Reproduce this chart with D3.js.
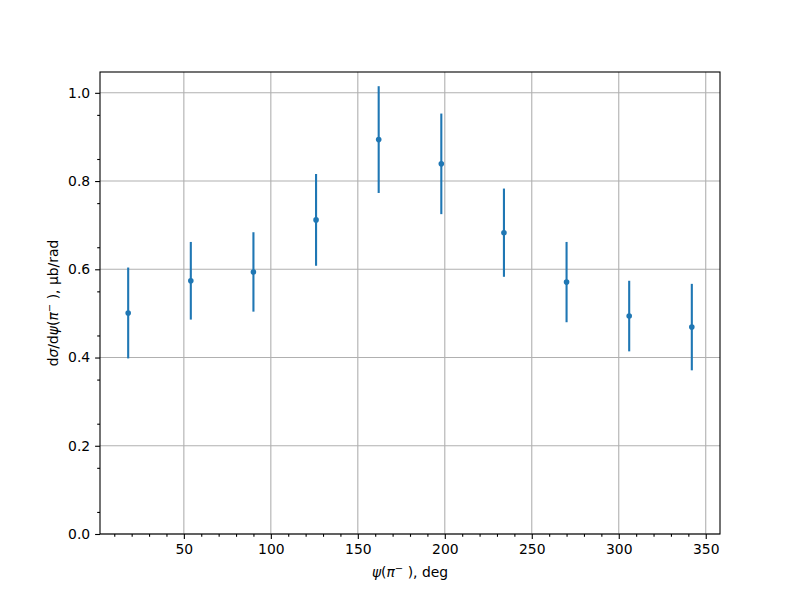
<html>
<head>
<script src="https://d3js.org/d3.v7.min.js"></script>
<style>
  body { margin: 0; background: white; }
  text { font-family: "DejaVu Sans", sans-serif; }
</style>
</head>
<body>
<svg id="chart" width="800" height="600"></svg>
<script>
// measured angle bins (deg), cross sections and errors
var psi = [18, 54, 90, 126, 162, 198, 234, 270, 306, 342];
var xsec = [0.501, 0.574, 0.594, 0.712, 0.894, 0.839, 0.683, 0.571, 0.494, 0.469];
var xerr = [0.103, 0.088, 0.090, 0.104, 0.121, 0.114, 0.100, 0.091, 0.080, 0.098];
var xTicks = [50, 100, 150, 200, 250, 300, 350];
var yTicks = [0.0, 0.2, 0.4, 0.6, 0.8, 1.0];

var axL = 100, axR = 720, axT = 72, axB = 534;
var svg = d3.select('#chart');
svg.append('rect').attr('width', 800).attr('height', 600).attr('fill', 'white');

// matplotlib-like 5% margins
var xmin = d3.min(psi), xmax = d3.max(psi);
var xpad = (xmax - xmin) * 0.05;
var lows = xsec.map(function(v, i){ return v - xerr[i]; });
var highs = xsec.map(function(v, i){ return v + xerr[i]; });
var ymax = d3.max(highs) + (d3.max(highs) - d3.min(lows)) * 0.05;

var x = d3.scaleLinear().domain([xmin - xpad, xmax + xpad]).range([axL, axR]);
var y = d3.scaleLinear().domain([0, ymax]).range([axB, axT]);

var grid = '#b0b0b0';
var blue = '#1f77b4';

// grid
var g = svg.append('g');
g.selectAll('.gx').data(xTicks).enter().append('line')
  .attr('x1', function(d){ return x(d); }).attr('x2', function(d){ return x(d); })
  .attr('y1', axT).attr('y2', axB).attr('stroke', grid).attr('stroke-width', 1.1);
g.selectAll('.gy').data(yTicks).enter().append('line')
  .attr('y1', function(d){ return y(d); }).attr('y2', function(d){ return y(d); })
  .attr('x1', axL).attr('x2', axR).attr('stroke', grid).attr('stroke-width', 1.1);

// axes
var xMinor = d3.range(10, 360, 10).filter(function(d){ return d % 50 != 0; });
var yMinor = d3.range(0.05, 1.05, 0.1).map(function(d){ return +d.toFixed(2); });

var xAxis = d3.axisBottom(x).tickValues(xTicks).tickFormat(d3.format('d')).tickSize(4.9).tickPadding(4.9);
var xAxisMinor = d3.axisBottom(x).tickValues(xMinor).tickFormat('').tickSize(2.8);
var yAxis = d3.axisLeft(y).tickValues(yTicks).tickFormat(d3.format('.1f')).tickSize(4.9).tickPadding(4.9);
var yAxisMinor = d3.axisLeft(y).tickValues(yMinor).tickFormat('').tickSize(2.8);

function style(sel){
  sel.select('.domain').remove();
  sel.selectAll('line').attr('stroke', 'black').attr('stroke-width', 1.1);
  sel.selectAll('text').attr('fill', 'black').style('font-size', '13.9px').style('font-family', 'DejaVu Sans');
}
svg.append('g').attr('transform', 'translate(0,' + axB + ')').call(xAxisMinor).call(style);
svg.append('g').attr('transform', 'translate(0,' + axB + ')').call(xAxis).call(style);
svg.append('g').attr('transform', 'translate(' + axL + ',0)').call(yAxisMinor).call(style);
svg.append('g').attr('transform', 'translate(' + axL + ',0)').call(yAxis).call(style);

// error bars
svg.selectAll('.err').data(psi).enter().append('line')
  .attr('x1', function(d){ return x(d); }).attr('x2', function(d){ return x(d); })
  .attr('y1', function(d, i){ return y(lows[i]); }).attr('y2', function(d, i){ return y(highs[i]); })
  .attr('stroke', blue).attr('stroke-width', 2.1);
svg.selectAll('.pt').data(psi).enter().append('circle')
  .attr('cx', function(d){ return x(d); }).attr('cy', function(d, i){ return y(xsec[i]); })
  .attr('r', 2.8).attr('fill', blue);

// spines
svg.append('rect').attr('x', axL).attr('y', axT).attr('width', axR - axL).attr('height', axB - axT)
  .attr('fill', 'none').attr('stroke', 'black').attr('stroke-width', 1.1);

// labels
var xl = svg.append('text').attr('x', (axL + axR) / 2).attr('y', 577).attr('text-anchor', 'middle')
  .style('font-size', '13.9px');
xl.append('tspan').style('font-style', 'italic').text('ψ');
xl.append('tspan').text('(');
xl.append('tspan').style('font-style', 'italic').text('π');
xl.append('tspan').attr('dy', -5).style('font-size', '10px').text('−');
xl.append('tspan').attr('dy', 5).text(' ), deg');

var yl = svg.append('text').attr('transform', 'translate(58,' + ((axT + axB) / 2) + ') rotate(-90)')
  .attr('text-anchor', 'middle').style('font-size', '13.9px');
yl.append('tspan').text('d');
yl.append('tspan').style('font-style', 'italic').text('σ');
yl.append('tspan').text('/d');
yl.append('tspan').style('font-style', 'italic').text('ψ');
yl.append('tspan').text('(');
yl.append('tspan').style('font-style', 'italic').text('π');
yl.append('tspan').attr('dy', -5).style('font-size', '10px').text('−');
yl.append('tspan').attr('dy', 5).text(' ), μb/rad');
</script>
</body>
</html>
